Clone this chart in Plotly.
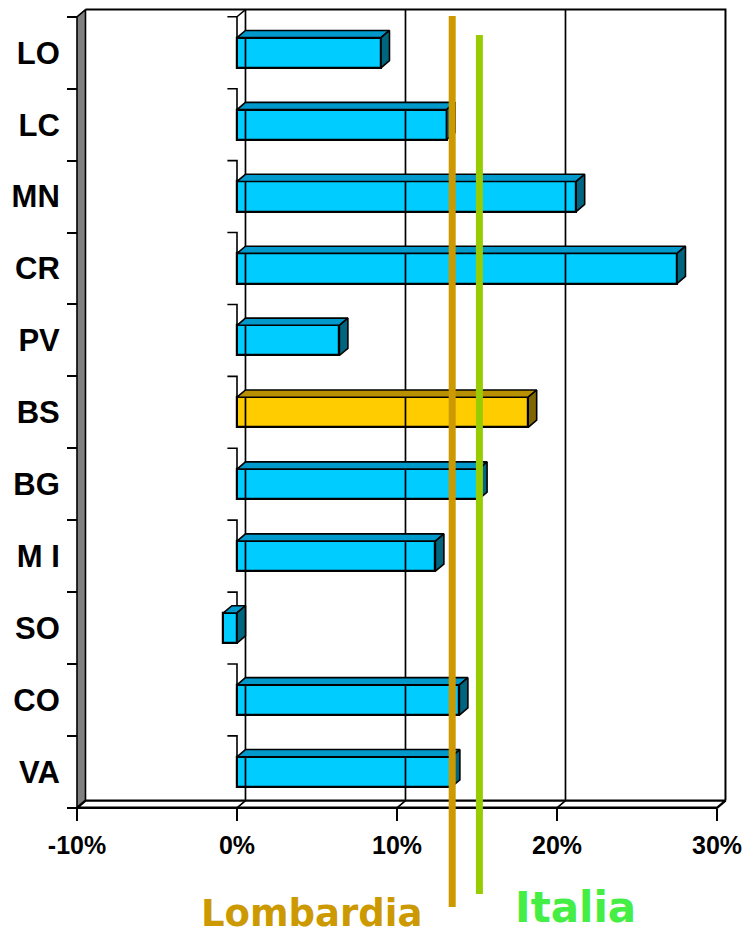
import plotly.graph_objects as go

# ---------------- data ----------------
categories = ["LO", "LC", "MN", "CR", "PV", "BS", "BG", "M I", "SO", "CO", "VA"]
values = [9.0, 13.1, 21.2, 27.5, 6.4, 18.2, 15.1, 12.4, -0.85, 13.9, 13.4]
highlight = ["BS"]
ref_names = ["Lombardia", "Italia"]
ref_values = [13.45, 15.15]
x_ticks = [-10, 0, 10, 20, 30]
x_ticklabels = ["-10%", "0%", "10%", "20%", "30%"]

# ---------------- style / geometry ----------------
W, H = 747, 937
ML, MR, MT = 73, 18, 6
PW = W - ML - MR          # 656
PH = 809
MB = H - MT - PH
XR = [-10.25, 30.75]
YR = [10.6, -0.65]
DX = 0.53                 # depth offset along x (in %)
DY = 0.1                  # depth offset along y (in category units)
HALF = 0.21               # half bar thickness
XMIN, XMAX = x_ticks[0], x_ticks[-1]
YTOP, YBOT = -0.5, len(categories) - 0.5

BLUE = dict(front="#00CCFF", top="#0099CC", side="#006680")
GOLD = dict(front="#FFCC00", top="#B89000", side="#806600")
REF_COLORS = ["#CC9900", "#99CC00"]
REF_TEXT_COLORS = ["#CC9900", "#44EE44"]

pos = list(range(len(categories)))

fig = go.Figure()


def poly(xs, ys, fill, lw=1.6, lc="black"):
    fig.add_trace(go.Scatter(
        x=xs, y=ys, mode="lines", fill="toself" if fill else None,
        fillcolor=fill, line=dict(color=lc, width=lw),
        hoverinfo="skip", showlegend=False))


def seg(xs, ys, lw=1.5):
    fig.add_trace(go.Scatter(
        x=xs, y=ys, mode="lines", line=dict(color="black", width=lw),
        hoverinfo="skip", showlegend=False))


# back wall gridlines and outline
for g in x_ticks[1:-1]:
    seg([g + DX, g + DX], [YTOP - DY, YBOT - DY], 1.7)
seg([XMIN + DX, XMAX + DX, XMAX + DX], [YTOP - DY, YTOP - DY, YBOT - DY], 2)

# left wall
poly([XMIN, XMIN + DX, XMIN + DX, XMIN, XMIN],
     [YTOP, YTOP - DY, YBOT - DY, YBOT, YTOP], "#808080", 1.6)

# floor
poly([XMIN, XMAX, XMAX + DX, XMIN + DX, XMIN],
     [YBOT, YBOT, YBOT - DY, YBOT - DY, YBOT], "white", 2.4)
for g in x_ticks[1:-1]:
    seg([g, g + DX], [YBOT, YBOT - DY], 1.7)

# category axis at 0 (front plane): ticks and visible segments
for k in range(len(categories)):
    b = k - 0.5
    seg([-0.6, 0, 0], [b, b, k - HALF], 1.6)
seg([0, DX], [YTOP, YTOP - DY], 1.5)

# bar depth faces
for c, v, p in zip(categories, values, pos):
    col = GOLD if c in highlight else BLUE
    x0, x1 = min(v, 0), max(v, 0)
    yt, yb = p - HALF, p + HALF
    poly([x0, x1, x1 + DX, x0 + DX, x0], [yt, yt, yt - DY, yt - DY, yt], col["top"])
    poly([x1, x1 + DX, x1 + DX, x1, x1], [yt, yt - DY, yb - DY, yb, yt], col["side"])

# bar front faces
fig.add_trace(go.Bar(
    x=values, y=pos, orientation="h", width=2 * HALF,
    marker=dict(color=[(GOLD if c in highlight else BLUE)["front"] for c in categories],
                line=dict(color="black", width=2.2)),
    hoverinfo="skip", showlegend=False))


def paper_x(px):
    return (px - ML) / PW


def paper_y(py):
    return (MT + PH - py) / PH


# reference lines
ref_spans = [(16, 907), (35, 894)]
for v, col, (y0, y1) in zip(ref_values, REF_COLORS, ref_spans):
    fig.add_shape(type="line", xref="x", yref="paper", x0=v, x1=v,
                  y0=paper_y(y0), y1=paper_y(y1),
                  line=dict(color=col, width=7), layer="above")

# reference labels
label_pos = [(311, 913, 37), (575, 907, 42)]
for name, col, (px, py, fs) in zip(ref_names, REF_TEXT_COLORS, label_pos):
    fig.add_annotation(text=name, xref="paper", yref="paper",
                       x=paper_x(px), y=paper_y(py), showarrow=False,
                       xanchor="center", yanchor="middle",
                       font=dict(family="DejaVu Sans", size=fs, color=col, weight="bold"))

fig.update_layout(
    width=W, height=H,
    margin=dict(l=ML, r=MR, t=MT, b=MB, pad=0),
    paper_bgcolor="white", plot_bgcolor="white",
    bargap=0,
    xaxis=dict(range=XR, tickvals=x_ticks, ticktext=x_ticklabels,
               showgrid=False, zeroline=False, showline=False,
               ticks="outside", ticklen=12, tickwidth=1.6, tickcolor="black",
               anchor="free", position=(YR[0] - YBOT) / (YR[0] - YR[1]),
               ticklabelstandoff=3,
               tickfont=dict(family="Liberation Sans", size=25, color="black", weight="bold")),
    yaxis=dict(range=YR, tickvals=pos, ticktext=categories,
               showgrid=False, zeroline=False, showline=False,
               ticks="outside", ticklen=10, tickcolor="rgba(0,0,0,0)",
               anchor="free", position=(XMIN - XR[0]) / (XR[1] - XR[0]),
               ticklabelstandoff=1,
               minor=dict(tickvals=[k - 0.5 for k in range(len(categories) + 1)],
                          ticks="outside", ticklen=10, tickwidth=1.6, tickcolor="black"),
               tickfont=dict(family="Liberation Sans", size=31, color="black", weight="bold")),
)

fig.write_html("out.html", post_script="document.body.style.margin='0px';",
               config={"displayModeBar": False})
